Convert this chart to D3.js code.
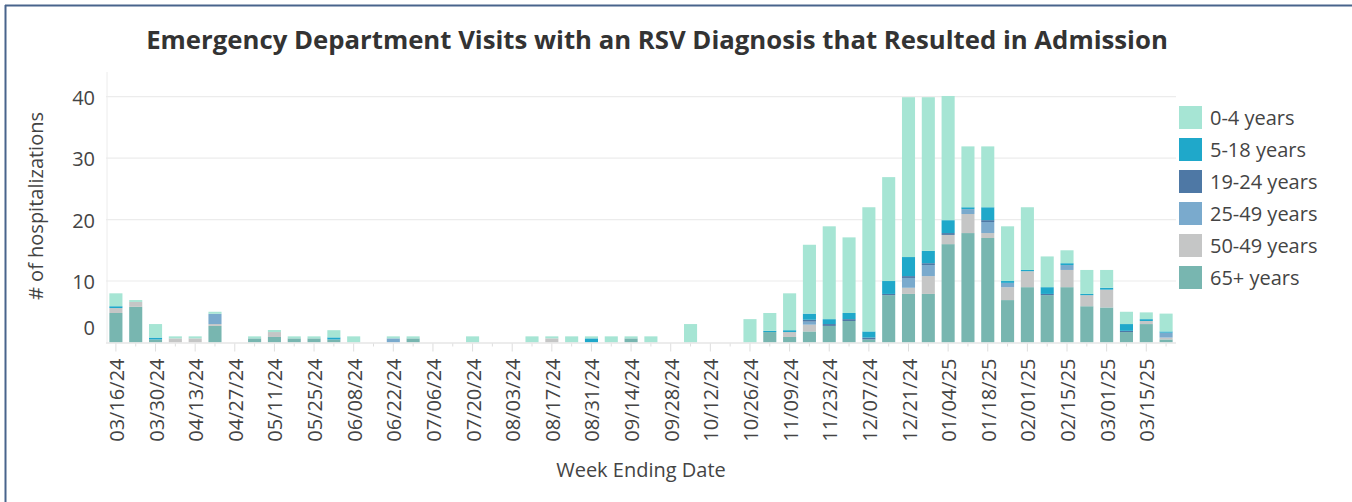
<!DOCTYPE html>
<html>
<head>
<meta charset="utf-8">
<script src="https://cdn.jsdelivr.net/npm/d3@7"></script>
<style>
  body { margin: 0; background: #fff; }
  svg { display: block; font-family: "Open Sans", sans-serif; }
</style>
</head>
<body>
<svg id="chart" width="1352" height="502"></svg>
<script>
// week ending dates
const weeks = [
  "2024-03-16","2024-03-23","2024-03-30","2024-04-06","2024-04-13","2024-04-20","2024-04-27","2024-05-04","2024-05-11",
  "2024-05-18","2024-05-25","2024-06-01","2024-06-08","2024-06-15","2024-06-22","2024-06-29","2024-07-06","2024-07-13",
  "2024-07-20","2024-07-27","2024-08-03","2024-08-10","2024-08-17","2024-08-24","2024-08-31","2024-09-07","2024-09-14",
  "2024-09-21","2024-09-28","2024-10-05","2024-10-12","2024-10-19","2024-10-26","2024-11-02","2024-11-09","2024-11-16",
  "2024-11-23","2024-11-30","2024-12-07","2024-12-14","2024-12-21","2024-12-28","2025-01-04","2025-01-11","2025-01-18",
  "2025-01-25","2025-02-01","2025-02-08","2025-02-15","2025-02-22","2025-03-01","2025-03-08","2025-03-15","2025-03-22"
];

// hospitalizations per age group (one value per week)
const age0to4 = [
  2.1, 0.3, 2.2, 0.33, 0.33, 0.33, 0, 0.33, 0.33,
  0.33, 0.33, 1.17, 1, 0, 0.33, 0.33, 0, 0,
  1, 0, 0, 1, 0.33, 1, 0.33, 1, 0.33,
  1, 0, 3, 0, 0, 3.8, 2.9, 6.0, 11.2,
  15.1, 12.3, 20.2, 16.9, 26.0, 25.0, 20.2, 9.9, 9.9,
  8.9, 10.2, 5.0, 2.1, 3.9, 2.9, 2.0, 1.1, 2.9
];
const age5to18 = [
  0.3, 0, 0.3, 0, 0, 0, 0, 0, 0,
  0, 0, 0.33, 0, 0, 0, 0, 0, 0,
  0, 0, 0, 0, 0, 0, 0.67, 0, 0,
  0, 0, 0, 0, 0, 0, 0.2, 0.3, 1.0,
  0.8, 1.0, 1.0, 2.1, 3.1, 2.0, 2.1, 0.3, 2.1,
  0.3, 0.2, 1.1, 0.3, 0.2, 0.3, 1.1, 0.3, 0.2
];
const age19to24 = [
  0, 0, 0, 0, 0, 0, 0, 0, 0,
  0, 0, 0, 0, 0, 0, 0, 0, 0,
  0, 0, 0, 0, 0, 0, 0, 0, 0,
  0, 0, 0, 0, 0, 0, 0, 0, 0.3,
  0.3, 0.3, 0.3, 0.2, 0.3, 0.3, 0.3, 0, 0.3,
  0, 0, 0.2, 0, 0, 0, 0.2, 0, 0
];
const age25to49 = [
  0, 0, 0, 0, 0, 1.67, 0, 0, 0,
  0, 0, 0, 0, 0, 0.67, 0, 0, 0,
  0, 0, 0, 0, 0, 0, 0, 0, 0,
  0, 0, 0, 0, 0, 0, 0, 0, 0.5,
  0, 0, 0, 0, 1.6, 1.8, 0, 0.8, 1.8,
  0.7, 0, 0, 0.8, 0, 0, 0, 0, 0.8
];
const age50to64 = [
  0.8, 0.8, 0, 0.67, 0.67, 0.3, 0, 0, 0.8,
  0, 0, 0, 0, 0, 0, 0, 0, 0,
  0, 0, 0, 0, 0.67, 0, 0, 0, 0,
  0, 0, 0, 0, 0, 0, 0, 0.8, 1.1,
  0, 0, 0, 0, 1.0, 2.9, 1.5, 3.1, 0.8,
  2.1, 2.6, 0, 2.8, 1.8, 2.9, 0, 0.5, 0.3
];
const age65plus = [
  4.8, 5.8, 0.5, 0, 0, 2.7, 0, 0.67, 0.9,
  0.67, 0.67, 0.5, 0, 0, 0, 0.67, 0, 0,
  0, 0, 0, 0, 0, 0, 0, 0, 0.67,
  0, 0, 0, 0, 0, 0, 1.7, 0.9, 1.8,
  2.7, 3.5, 0.5, 7.7, 7.9, 7.9, 16.0, 17.8, 17.0,
  6.9, 9.0, 7.7, 9.0, 5.9, 5.7, 1.7, 3.0, 0.5
];

// legend labels (top to bottom) as shown on the original
const ageLabels = ["0-4 years", "5-18 years", "19-24 years", "25-49 years", "50-49 years", "65+ years"];
const yTicks = [0, 10, 20, 30, 40];

const seriesByLabel = {
  "0-4 years": age0to4,
  "5-18 years": age5to18,
  "19-24 years": age19to24,
  "25-49 years": age25to49,
  "50-49 years": age50to64,
  "65+ years": age65plus
};

const colors = {
  "0-4 years": "#a6e5d4",
  "5-18 years": "#1fa8ca",
  "19-24 years": "#4e78a5",
  "25-49 years": "#7aaacd",
  "50-49 years": "#c5c6c6",
  "65+ years": "#78b6b0"
};

const parse = d3.timeParse("%Y-%m-%d");
const fmt = d3.timeFormat("%m/%d/%y");

// build rows for d3.stack
const rows = weeks.map((w, i) => {
  const r = { week: w };
  ageLabels.forEach(k => { r[k] = seriesByLabel[k][i]; });
  return r;
});

// stack bottom to top: 65+ first, 0-4 last
const stackKeys = ageLabels.slice().reverse();
const stacked = d3.stack().keys(stackKeys)(rows);

const svg = d3.select("#chart");

// plot area
const plot = { left: 106, right: 1176, top: 72, bottom: 342.5 };

const x = d3.scaleBand()
  .domain(weeks)
  .range([plot.left, plot.right])
  .paddingInner(0.34)
  .paddingOuter(0.17);

const y = d3.scaleLinear()
  .domain([0, 44])
  .range([plot.bottom, plot.top]);

// outer frame (only top and left edges visible)
svg.append("line")
  .attr("x1", 5.5).attr("x2", 5.5).attr("y1", 5).attr("y2", 502)
  .attr("stroke", "#48648c").attr("stroke-width", 2);
svg.append("line")
  .attr("x1", 5).attr("x2", 1352).attr("y1", 5.5).attr("y2", 5.5)
  .attr("stroke", "#48648c").attr("stroke-width", 2);

// title, fitted to the original width
const title = svg.append("text")
  .attr("x", 657)
  .attr("y", 48.5)
  .attr("text-anchor", "middle")
  .style("font-size", "24px")
  .style("font-weight", "bold")
  .style("fill", "#333")
  .text("Emergency Department Visits with an RSV Diagnosis that Resulted in Admission");
const tw = title.node().getComputedTextLength();
title.style("font-size", (24 * 1022 / tw).toFixed(2) + "px");

// gridlines
svg.append("g")
  .selectAll("line")
  .data(yTicks.filter(d => d > 0))
  .join("line")
  .attr("x1", plot.left).attr("x2", plot.right)
  .attr("y1", d => y(d)).attr("y2", d => y(d))
  .attr("stroke", "#ececec")
  .attr("stroke-width", 1.2);

// left axis line
svg.append("line")
  .attr("x1", plot.left + 1).attr("x2", plot.left + 1)
  .attr("y1", plot.top).attr("y2", plot.bottom)
  .attr("stroke", "#ececec");

// y axis
const yAxis = svg.append("g")
  .attr("transform", `translate(${plot.left},0)`)
  .call(d3.axisLeft(y).tickValues(yTicks).tickSize(0).tickPadding(11));
yAxis.select(".domain").remove();
yAxis.selectAll("text")
  .style("font-family", "Open Sans, sans-serif")
  .style("font-size", "20px")
  .style("fill", "#444")
  .attr("dy", d => d === 0 ? "-0.38em" : "0.38em");

// bars
svg.append("g")
  .selectAll("g")
  .data(stacked)
  .join("g")
  .attr("fill", d => colors[d.key])
  .selectAll("rect")
  .data(d => d)
  .join("rect")
  .attr("x", d => x(d.data.week))
  .attr("width", x.bandwidth())
  .attr("y", d => y(d[1]))
  .attr("height", d => Math.max(0, y(d[0]) - y(d[1])));

// baseline
svg.append("line")
  .attr("x1", plot.left).attr("x2", plot.right)
  .attr("y1", plot.bottom + 0.5).attr("y2", plot.bottom + 0.5)
  .attr("stroke", "#e6e6e6").attr("stroke-width", 1.5);

// x axis: long ticks with labels every two weeks, short ticks in between
const xAxis = svg.append("g")
  .attr("transform", `translate(0,${plot.bottom + 1})`)
  .call(d3.axisBottom(x)
    .tickSize(8)
    .tickFormat((d, i) => i % 2 === 0 ? fmt(parse(d)) : ""));
xAxis.select(".domain").remove();
xAxis.selectAll(".tick line")
  .attr("stroke", "#dedede")
  .attr("y2", (d, i) => i % 2 === 0 ? 8 : 3);
xAxis.selectAll(".tick text")
  .style("font-family", "Open Sans, sans-serif")
  .style("font-size", "20px")
  .style("fill", "#444")
  .attr("text-anchor", "end")
  .attr("transform", "rotate(-90)")
  .attr("x", -15)
  .attr("y", 1)
  .attr("dy", "0.35em");

// axis titles
svg.append("text")
  .attr("transform", "translate(43,206) rotate(-90)")
  .attr("text-anchor", "middle")
  .style("font-size", "20px")
  .style("fill", "#444")
  .text("# of hospitalizations");

svg.append("text")
  .attr("x", 641)
  .attr("y", 477)
  .attr("text-anchor", "middle")
  .style("font-size", "20px")
  .style("fill", "#444")
  .text("Week Ending Date");

// legend
const legend = svg.append("g")
  .attr("transform", "translate(1179,106)");

const item = legend.selectAll("g")
  .data(ageLabels)
  .join("g")
  .attr("transform", (d, i) => `translate(0,${i * 32})`);

item.append("rect")
  .attr("width", 23)
  .attr("height", 23)
  .attr("fill", d => colors[d]);

item.append("text")
  .attr("x", 31)
  .attr("y", 12)
  .attr("dy", "0.35em")
  .style("font-size", "20px")
  .style("fill", "#444")
  .text(d => d);
</script>
</body>
</html>
